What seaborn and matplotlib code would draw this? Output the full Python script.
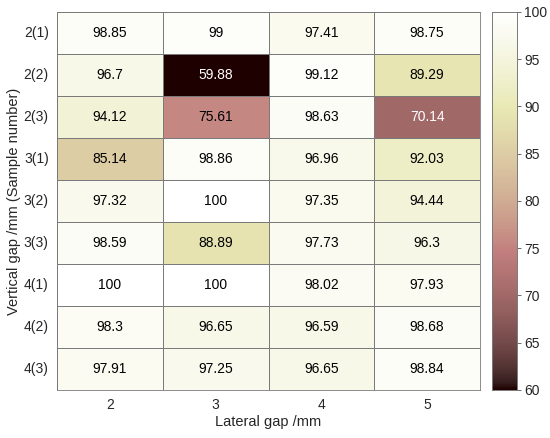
import numpy as np
import pandas as pd
import matplotlib
matplotlib.use("Agg")
import matplotlib.pyplot as plt
import seaborn as sns

rows = ["2(1)", "2(2)", "2(3)", "3(1)", "3(2)", "3(3)", "4(1)", "4(2)", "4(3)"]
cols = ["2", "3", "4", "5"]
gap2 = [98.85, 96.7, 94.12, 85.14, 97.32, 98.59, 100, 98.3, 97.91]
gap3 = [99, 59.88, 75.61, 98.86, 100, 88.89, 100, 96.65, 97.25]
gap4 = [97.41, 99.12, 98.63, 96.96, 97.35, 97.73, 98.02, 96.59, 96.65]
gap5 = [98.75, 89.29, 70.14, 92.03, 94.44, 96.3, 97.93, 98.68, 98.84]

df = pd.DataFrame({"2": gap2, "3": gap3, "4": gap4, "5": gap5}, index=rows)

sns.set_style("white")
plt.rcParams['font.family'] = ['Liberation Sans', 'DejaVu Sans']

fig = plt.figure(figsize=(5.5, 4.38), dpi=100)
ax = fig.add_axes([57 / 550, 1 - 390 / 438, 423 / 550, 378 / 438])
cax = fig.add_axes([492 / 550, 1 - 390 / 438, 25 / 550, 378 / 438])

# labels: drop trailing zeros like the original
annot = df.apply(lambda c: c.map(lambda v: f"{v:g}"))

sns.heatmap(df, ax=ax, cbar_ax=cax, cmap="pink", vmin=60, vmax=100,
            annot=annot, fmt="", linewidths=0.6, linecolor="#7a7a7a",
            annot_kws={"fontsize": 10})

# white text on the dark cells
for t in ax.texts:
    v = float(t.get_text())
    t.set_color("white" if v < 72 else "black")

for s in ax.spines.values():
    s.set_visible(True)
    s.set_color("#7a7a7a")
    s.set_linewidth(0.6)

ax.set_xlabel("Lateral gap /mm", fontsize=10.5, labelpad=2)
ax.set_ylabel("Vertical gap /mm (Sample number)", fontsize=10.5, labelpad=2)
ax.tick_params(axis="both", length=0, labelsize=10, pad=6)
ax.tick_params(axis="y", rotation=0)

cax.set_yticks(range(60, 101, 5))
cax.tick_params(axis="y", labelsize=10, length=3, width=0.6, color="#555555", pad=2)
for s in cax.spines.values():
    s.set_visible(True)
    s.set_color("#7a7a7a")
    s.set_linewidth(0.6)

fig.savefig("out.png", dpi=100)
